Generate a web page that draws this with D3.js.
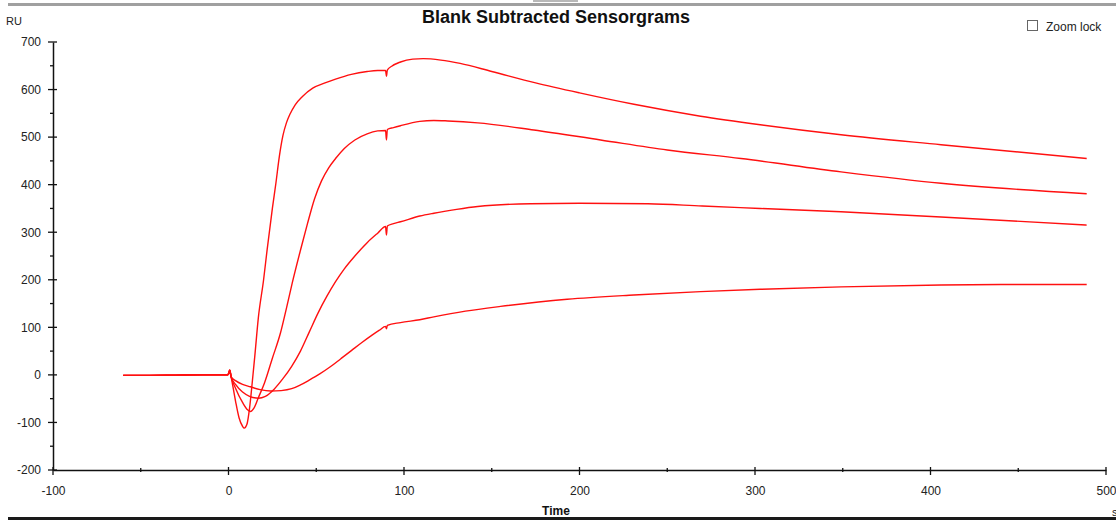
<!DOCTYPE html>
<html>
<head>
<meta charset="utf-8">
<script src="https://cdn.jsdelivr.net/npm/d3@7"></script>
<style>
  body { margin: 0; background: #fff; }
  svg { display: block; font-family: "Liberation Sans", Arial, sans-serif; }
</style>
</head>
<body>
<div id="chart"></div>
<script>
"use strict";

// sensorgram traces, [time s, response RU]
const baseline = [[-60, -1], [-45, -1], [-30, -0.5], [-15, 0], [-1, 0], [0, 2], [0.7, 10], [1.5, -4]];

const curve1 = [[4, -55], [6, -90], [8, -108], [9, -112], [10.5, -104], [12, -70], [13.5, -17], [15, 40],
    [17, 120], [20, 200], [22, 263], [25, 350], [27, 403], [29, 460], [31, 503], [33, 530], [35, 548],
    [38, 568], [42, 585], [48, 603], [55, 614], [61, 622], [70, 632], [79, 638], [85, 640], [89.5, 640],
    [90, 628], [90.5, 641], [93, 649], [98, 658], [105, 664], [111, 665], [121, 662], [132, 655],
    [150, 638], [175, 614], [200, 593], [231, 569], [269, 544], [303, 526], [349, 505], [406, 484], [489, 455]];

const curve2 = [[4, -28], [8, -58], [11, -74], [12.5, -77], [14.5, -70], [17, -48], [20.5, -17], [25, 35],
    [29.6, 88], [33, 140], [36.3, 193], [41, 262], [45, 318], [49, 370], [53, 408], [57, 435],
    [61, 455], [66, 476], [72, 494], [79, 507], [85, 513], [89.5, 514], [90, 494], [90.5, 516],
    [94, 520], [98, 524], [109, 533], [117, 535], [125, 534], [142, 530], [174, 515], [212, 494],
    [250, 473], [292, 455], [349, 427], [406, 403], [489, 381]];

const curve3 = [[4, -20], [8, -36], [12, -45], [17, -49], [21, -45], [26, -30], [31, -8], [36, 18],
    [41, 50], [46, 90], [51, 130], [56, 165], [61, 196], [66, 223], [72, 250], [79, 278], [85, 298],
    [89.5, 312], [90, 294], [90.5, 313], [94, 318], [98, 322], [109, 334], [117, 340], [130, 348],
    [142, 354], [172, 360], [200, 361], [239, 360], [270, 355], [303, 350], [349, 343], [406, 332], [489, 315]];

const curve4 = [[4, -12], [8, -20], [12.5, -25], [18, -31], [24, -34], [30, -33], [36, -29], [41, -21],
    [46, -11], [52, 2], [58, 17], [64, 34], [70, 51], [76, 68], [82, 84], [86, 94], [89.5, 102],
    [90, 97], [90.5, 104], [98, 110], [109, 116], [117, 122], [135, 134], [155, 144], [193, 159],
    [231, 168], [269, 175], [303, 180], [349, 185], [406, 189], [440, 190], [489, 190]];

const xTicks = [-100, 0, 100, 200, 300, 400, 500];
const yTicks = [-200, -100, 0, 100, 200, 300, 400, 500, 600, 700];


const width = 1116;
const height = 521;

const x = d3.scaleLinear()
    .domain([-100, 500])
    .range([53, 1106]);

const y = d3.scaleLinear()
    .domain([-200, 700])
    .range([470, 42]);

const svg = d3.select("#chart").append("svg")
    .attr("width", width)
    .attr("height", height);

// window chrome
svg.append("rect").attr("x", 8).attr("y", 3).attr("width", width - 8).attr("height", 3).attr("fill", "#a0a0a0");
svg.append("rect").attr("x", 533).attr("y", 0).attr("width", 45).attr("height", 2).attr("fill", "#b8b8b8");
svg.append("rect").attr("x", 8).attr("y", 517).attr("width", width - 8).attr("height", 3).attr("fill", "#1a1a1a");

svg.append("text")
    .attr("x", 556)
    .attr("y", 23)
    .attr("text-anchor", "middle")
    .attr("font-weight", "bold")
    .style("font-size", "18px")
    .attr("fill", "#111")
    .text("Blank Subtracted Sensorgrams");

svg.append("text")
    .attr("x", 6)
    .attr("y", 25)
    .style("font-size", "11px")
    .attr("fill", "#222")
    .text("RU");

// zoom lock checkbox
svg.append("rect")
    .attr("x", 1027.5).attr("y", 20.5).attr("width", 10).attr("height", 10)
    .attr("fill", "#fff").attr("stroke", "#666");
svg.append("text")
    .attr("x", 1046)
    .attr("y", 31)
    .style("font-size", "12px")
    .attr("fill", "#222")
    .text("Zoom lock");

// axes (plain hyphen minus like the original software)
const fmt = d => String(d);

const xAxis = g => g
    .attr("transform", `translate(0,${y(-200)})`)
    .call(d3.axisBottom(x).tickValues(xTicks).tickFormat(fmt).tickSize(0).tickPadding(16))
    .call(g => g.select(".domain").attr("stroke", "#111").attr("stroke-width", 1.5))
    .call(g => g.selectAll(".tick text").style("font-size", "12px").attr("fill", "#222"));

const yAxis = g => g
    .attr("transform", `translate(${x(-100)},0)`)
    .call(d3.axisLeft(y).tickValues(yTicks).tickFormat(fmt).tickSize(0).tickPadding(12))
    .call(g => g.select(".domain").attr("stroke", "#111").attr("stroke-width", 1.5))
    .call(g => g.selectAll(".tick text").style("font-size", "12px").attr("fill", "#222"));

svg.append("g").call(xAxis);
svg.append("g").call(yAxis);

// major / minor tick marks
const tickG = svg.append("g").attr("stroke", "#111").attr("stroke-width", 1.3);

xTicks.forEach(t => {
    tickG.append("line").attr("x1", x(t)).attr("x2", x(t)).attr("y1", y(-200) - 3).attr("y2", y(-200) + 5);
    if (t < 500) tickG.append("line").attr("x1", x(t + 50)).attr("x2", x(t + 50)).attr("y1", y(-200) - 2).attr("y2", y(-200) + 2);
});

yTicks.forEach(v => {
    tickG.append("line").attr("x1", x(-100) - 5).attr("x2", x(-100) + 4).attr("y1", y(v)).attr("y2", y(v));
    if (v < 700) tickG.append("line").attr("x1", x(-100) - 3).attr("x2", x(-100)).attr("y1", y(v + 50)).attr("y2", y(v + 50));
});

svg.append("text")
    .attr("x", 556)
    .attr("y", 515)
    .attr("text-anchor", "middle")
    .attr("font-weight", "bold")
    .style("font-size", "12px")
    .attr("fill", "#111")
    .text("Time");

svg.append("text")
    .attr("x", 1112)
    .attr("y", 516)
    .style("font-size", "11px")
    .attr("fill", "#222")
    .text("s");

// traces
const line = d3.line()
    .x(d => x(d[0]))
    .y(d => y(d[1]))
    .curve(d3.curveMonotoneX);

const series = [curve1, curve2, curve3, curve4].map(c => baseline.concat(c));

svg.append("g")
    .attr("fill", "none")
    .attr("stroke", "#ff1010")
    .attr("stroke-width", 1.4)
    .attr("stroke-linejoin", "round")
    .selectAll("path")
    .data(series)
    .join("path")
        .attr("d", d => line(d));

</script>
</body>
</html>
